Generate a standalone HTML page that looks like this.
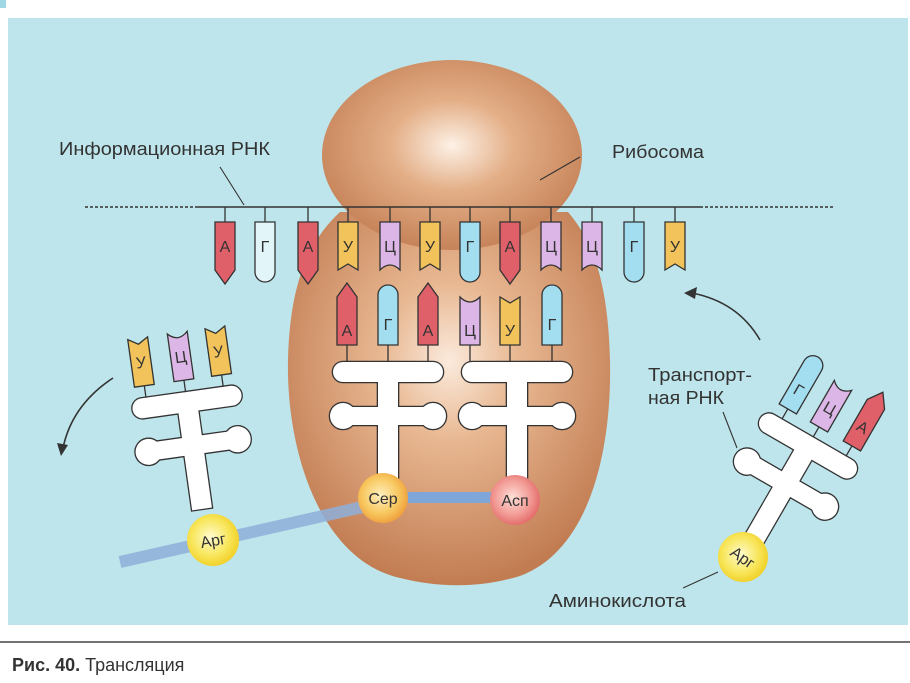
<!DOCTYPE html>
<html><head><meta charset="utf-8"><style>
html,body{margin:0;padding:0;background:#fff;}
svg{display:block;font-family:"Liberation Sans","DejaVu Sans",sans-serif;}
</style></head><body>
<svg width="910" height="683" viewBox="0 0 910 683" xmlns="http://www.w3.org/2000/svg">
<defs>
<radialGradient id="rib" cx="0.5" cy="0.4" r="0.6">
<stop offset="0" stop-color="#fbeadc"/><stop offset="0.35" stop-color="#e8b892"/><stop offset="1" stop-color="#c27c52"/></radialGradient>
<radialGradient id="ribh" cx="0.5" cy="0.45" r="0.6">
<stop offset="0" stop-color="#fdf1e6"/><stop offset="0.4" stop-color="#e3ae86"/><stop offset="1" stop-color="#c27c52"/></radialGradient>
<radialGradient id="yel" cx="0.45" cy="0.45" r="0.6"><stop offset="0" stop-color="#fffbd0"/><stop offset="0.6" stop-color="#f8e65a"/><stop offset="1" stop-color="#f0cc20"/></radialGradient>
<radialGradient id="org" cx="0.45" cy="0.45" r="0.6"><stop offset="0" stop-color="#fff0c0"/><stop offset="0.6" stop-color="#f8c860"/><stop offset="1" stop-color="#ee9a38"/></radialGradient>
<radialGradient id="red" cx="0.45" cy="0.45" r="0.6"><stop offset="0" stop-color="#fde0d8"/><stop offset="0.6" stop-color="#f29a94"/><stop offset="1" stop-color="#e06464"/></radialGradient>
<g id="trna">
<g fill="#fff" stroke="#333" stroke-width="2.6">
<rect x="-55" y="-10" width="110" height="20" rx="10"/>
<rect x="-10" y="0" width="20" height="108"/>
<rect x="-48" y="35" width="96" height="18" rx="9"/>
<circle cx="-45" cy="44" r="13"/><circle cx="45" cy="44" r="13"/>
</g>
<g fill="#fff">
<rect x="-55" y="-10" width="110" height="20" rx="10"/>
<rect x="-10" y="0" width="20" height="108"/>
<rect x="-48" y="35" width="96" height="18" rx="9"/>
<circle cx="-45" cy="44" r="13"/><circle cx="45" cy="44" r="13"/>
</g>
</g>
<path id="tA" d="M-10,0H10V48L0,62L-10,48Z"/>
<path id="tG" d="M-10,0H10V50A10,10 0 0 1 -10,50Z"/>
<path id="tU" d="M-10,0H10V48L0,42L-10,48Z"/>
<path id="tC" d="M-10,0H10V48Q0,38 -10,48Z"/>
</defs>
<rect x="0" y="0" width="910" height="683" fill="#fff"/>
<rect x="8" y="18" width="900" height="607" fill="#bee5eb"/>
<rect x="0" y="0" width="6" height="8" fill="#9fd8e4"/>

<!-- ribosome -->
<path d="M340,212 C310,240 290,280 288,360 C286,450 320,560 400,578 C440,588 480,588 520,576 C590,550 612,450 610,360 C608,280 592,240 568,212 Z" fill="url(#rib)"/>
<ellipse cx="452" cy="155" rx="130" ry="95" fill="url(#ribh)"/>

<!-- mRNA line -->
<line x1="85" y1="207" x2="195" y2="207" stroke="#333" stroke-width="1.4" stroke-dasharray="3,2"/>
<line x1="195" y1="207" x2="700" y2="207" stroke="#333" stroke-width="1.6"/>
<line x1="700" y1="207" x2="835" y2="207" stroke="#333" stroke-width="1.4" stroke-dasharray="3,2"/>

<!-- mRNA codons -->
<g stroke="#333" stroke-width="1.3">
<path d="M225,207V222M265,207V222M308,207V222M348,207V222M390,207V222M430,207V222M470,207V222M510,207V222M551,207V222M592,207V222M634,207V222M675,207V222"/>
<use href="#tA" x="225" y="222" fill="#e0606a"/>
<use href="#tG" x="265" y="222" fill="#e2f5f8"/>
<use href="#tA" x="308" y="222" fill="#e0606a"/>
<use href="#tU" x="348" y="222" fill="#f2c35a"/>
<use href="#tC" x="390" y="222" fill="#dcb6e6"/>
<use href="#tU" x="430" y="222" fill="#f2c35a"/>
<use href="#tG" x="470" y="222" fill="#a3def0"/>
<use href="#tA" x="510" y="222" fill="#e0606a"/>
<use href="#tC" x="551" y="222" fill="#dcb6e6"/>
<use href="#tC" x="592" y="222" fill="#dcb6e6"/>
<use href="#tG" x="634" y="222" fill="#a3def0"/>
<use href="#tU" x="675" y="222" fill="#f2c35a"/>
</g>
<g font-size="16" fill="#333" text-anchor="middle">
<text x="225" y="252">А</text><text x="265" y="252">Г</text><text x="308" y="252">А</text><text x="348" y="252">У</text><text x="390" y="252">Ц</text><text x="430" y="252">У</text><text x="470" y="252">Г</text><text x="510" y="252">А</text><text x="551" y="252">Ц</text><text x="592" y="252">Ц</text><text x="634" y="252">Г</text><text x="675" y="252">У</text>
</g>

<!-- ribosome tRNAs -->
<use href="#trna" x="388" y="372"/>
<use href="#trna" x="517" y="372"/>
<g stroke="#333" stroke-width="1.3">
<path d="M347,345V362M388,345V362M428,345V362M470,345V362M510,345V362M552,345V362"/>
<g transform="translate(347,345) scale(1,-1)"><use href="#tA" fill="#e0606a"/></g>
<g transform="translate(388,345) scale(1,-1)"><use href="#tG" fill="#a3def0"/></g>
<g transform="translate(428,345) scale(1,-1)"><use href="#tA" fill="#e0606a"/></g>
<g transform="translate(470,345) scale(1,-1)"><use href="#tC" fill="#dcb6e6"/></g>
<g transform="translate(510,345) scale(1,-1)"><use href="#tU" fill="#f2c35a"/></g>
<g transform="translate(552,345) scale(1,-1)"><use href="#tG" fill="#a3def0"/></g>
</g>
<g font-size="16" fill="#333" text-anchor="middle">
<text x="347" y="336">А</text><text x="388" y="330">Г</text><text x="428" y="336">А</text><text x="470" y="336">Ц</text><text x="510" y="336">У</text><text x="552" y="330">Г</text>
</g>

<!-- peptide -->
<path d="M120,562 L380,503" stroke="#8fb0da" stroke-width="12" opacity="0.85"/>
<rect x="383" y="492" width="132" height="11" fill="#7ea6d8"/>
<circle cx="383" cy="498" r="25" fill="url(#org)"/>
<circle cx="515" cy="500" r="25" fill="url(#red)"/>
<circle cx="213" cy="540" r="26" fill="url(#yel)"/>
<g font-size="16" fill="#333" text-anchor="middle">
<text x="383" y="504">Сер</text><text x="515" y="506">Асп</text>
<text x="213" y="546" transform="rotate(-10 213 540)">Арг</text>
</g>

<!-- left leaving tRNA -->
<g transform="translate(187,402) rotate(-8)">
<use href="#trna"/>
<g stroke="#333" stroke-width="1.3">
<path d="M-40,-10V-22M0,-10V-22M38,-10V-22"/>
<g transform="translate(-40,-22) scale(1,-1)"><use href="#tU" fill="#f2c35a"/></g>
<g transform="translate(0,-22) scale(1,-1)"><use href="#tC" fill="#dcb6e6"/></g>
<g transform="translate(38,-22) scale(1,-1)"><use href="#tU" fill="#f2c35a"/></g>
</g>
<g font-size="16" fill="#333" text-anchor="middle"><text x="-40" y="-40">У</text><text x="0" y="-40">Ц</text><text x="38" y="-40">У</text></g>
</g>

<!-- right incoming tRNA -->
<g transform="translate(808,446) rotate(30)">
<use href="#trna"/>
<g stroke="#333" stroke-width="1.3">
<path d="M-36,-10V-22M0,-10V-22M38,-10V-22"/>
<g transform="translate(-36,-22) scale(1,-1)"><use href="#tG" fill="#a3def0"/></g>
<g transform="translate(0,-22) scale(1,-1)"><use href="#tC" fill="#dcb6e6"/></g>
<g transform="translate(38,-22) scale(1,-1)"><use href="#tA" fill="#e0606a"/></g>
</g>
<g font-size="16" fill="#333" text-anchor="middle"><text x="-36" y="-38">Г</text><text x="0" y="-38">Ц</text><text x="38" y="-38">А</text></g>
</g>
<circle cx="743" cy="557" r="25" fill="url(#yel)"/>
<text x="743" y="563" font-size="16" fill="#333" text-anchor="middle" transform="rotate(35 743 557)">Арг</text>

<!-- arrows -->
<g fill="none" stroke="#333" stroke-width="1.6">
<path d="M760,340 Q738,302 692,293"/>
<path d="M113,378 Q72,405 63,448"/>
</g>
<path d="M684,293 L697,287 L695,299 Z" fill="#333"/>
<path d="M61,456 L57,443 L68,445 Z" fill="#333"/>

<!-- labels -->
<g font-size="18" fill="#333">
<text x="59" y="155" textLength="211" lengthAdjust="spacingAndGlyphs">Информационная РНК</text>
<text x="612" y="158" textLength="92" lengthAdjust="spacingAndGlyphs">Рибосома</text>
<text x="648" y="381" textLength="104" lengthAdjust="spacingAndGlyphs">Транспорт-</text>
<text x="648" y="404" textLength="76" lengthAdjust="spacingAndGlyphs">ная РНК</text>
<text x="549" y="607" textLength="137" lengthAdjust="spacingAndGlyphs">Аминокислота</text>
</g>
<g stroke="#333" stroke-width="1.1">
<line x1="220" y1="167" x2="244" y2="205"/>
<line x1="580" y1="157" x2="540" y2="180"/>
<line x1="723" y1="412" x2="737" y2="448"/>
<line x1="683" y1="588" x2="718" y2="572"/>
</g>

<!-- caption -->
<line x1="0" y1="642" x2="910" y2="642" stroke="#444" stroke-width="1.6"/>
<text x="12" y="671" font-size="18" fill="#333"><tspan font-weight="bold">Рис. 40.</tspan> Трансляция</text>
</svg>
</body></html>
